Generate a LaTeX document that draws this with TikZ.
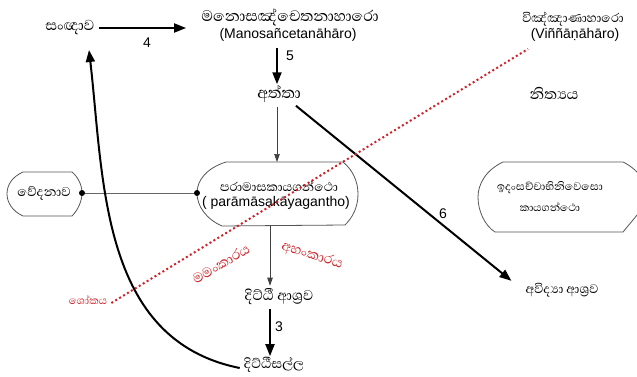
\documentclass[tikz,border=0pt]{standalone}
\usepackage{fontspec}
\setmainfont{Liberation Sans}
\newfontfamily\sinfont[Script=Sinhala]{Abhaya Libre}
\usetikzlibrary{arrows.meta}
\definecolor{redt}{RGB}{205,35,40}
\definecolor{outl}{RGB}{85,85,85}
\begin{document}
\begin{tikzpicture}[x=1pt,y=-1pt,
  si/.style={font=\sinfont\fontsize{#1}{#1}\selectfont, inner sep=1pt},
  si/.default=17,
  sired/.style={si=#1, text=redt},
  la/.style={font=\fontsize{14}{15}\selectfont, inner sep=1pt},
  num/.style={font=\fontsize{14}{15}\selectfont, inner sep=1pt},
  thickarr/.style={line width=2pt, -{Triangle[length=12pt,width=9pt]}},
  thinarr/.style={line width=0.7pt, draw=black!75, -{Triangle[length=8pt,width=5.5pt]}},
  thinline/.style={line width=0.7pt, draw=black!60},
  shapeline/.style={line width=0.8pt, draw=outl},
  reddot/.style={line width=2pt, draw=redt, dash pattern=on 2pt off 2.6pt}]
\useasboundingbox (0,0) rectangle (637,377);

% text nodes
\node[si=18.5] (sanna) at (70,28) {සංඥාව};
\node[si=19.5] (mano) at (290,17) {මනොසඤ්චෙතනාහාරො};
\node[la] (manolat) at (288,35) {(Manosañcetanāhāro)};
\node[si=16] (vinna) at (573,19) {විඤ්ඤාණාහාරො};
\node[la] (vinnalat) at (575,35) {(Viññāṇāhāro)};
\node[si=20] (atta) at (279,94) {අත්තා};
\node[si=19] (nitya) at (554,93) {නිත්‍යය};
\node[si=16.5] (vedana) at (44,193) {වේදනාව};
\node[si=16] (para) at (279,186) {පරාමාසකායගන්ථො};
\node[la] (paralat) at (276,203) {( parāmāsakāyagantho)};
\node[si=14] (idam) at (550,188) {ඉදංසච්චාභිනිවෙසො};
\node[si=13.5] (kaya) at (550,207) {කායගන්ථො};
\node[sired=13.5] (soka) at (88,300) {ශෝකය};
\node[sired=17.5, rotate=31] (mamam) at (221,264) {මමංකාරය};
\node[sired=17.5, rotate=-17] (aham) at (312,256) {අහංකාරය};
\node[si=18] (ditthias) at (279,297) {දිට්ඨී ආශ්‍රව};
\node[si=17] (ditthisalla) at (274,365) {දිට්ඨීසල්ල};
\node[si=16] (avidya) at (562,290) {අවිද්‍යා ආශ්‍රව};

% number labels
\node[num] (n4) at (147,43) {4};
\node[num] (n5) at (290,56) {5};
\node[num] (n6) at (443,214) {6};
\node[num] (n3) at (279,327) {3};

% shapes
\coordinate (vedR) at (82,193);
\coordinate (pillL) at (197,193);
\coordinate (pillT) at (277,162);
\coordinate (pillB) at (270,226);
\draw[shapeline] (23,172) -- (72,172) .. controls (78,177) and (82,185) .. (vedR)
  .. controls (82,201) and (78,210) .. (72,216) -- (23,216)
  .. controls (12,211) and (7,202) .. (7,194) .. controls (7,185) and (12,177) .. (23,172) -- cycle;
\draw[shapeline] (226,162) -- (343,162) .. controls (353,170) and (358,182) .. (358,194)
  .. controls (358,208) and (352,218) .. (345,225)
  -- (222,226) .. controls (206,219) and (197,206) .. (pillL)
  .. controls (197,180) and (207,168) .. (226,162) -- cycle;
\draw[shapeline] (503,162) -- (623,162) .. controls (640,170) and (652,190) .. (652,197)
  -- (623,232) -- (495,232) .. controls (484,225) and (478,210) .. (478,197)
  .. controls (478,184) and (486,170) .. (503,162) -- cycle;

% dots and link
\draw[thinline] (vedR) -- (pillL);
\fill (vedR) circle (3pt);
\fill (pillL) circle (3pt);

% connectors
\draw[thickarr] ([xshift=3pt]sanna.east) -- ([xshift=-14pt]sanna.east -| mano.west);
\draw[thickarr] ([yshift=-5pt]manolat.south -| pillT) -- (atta.north -| pillT);
\draw[thinarr] ([yshift=-3pt]atta.south -| pillT) -- (pillT);
\draw[thickarr] ([xshift=-6pt,yshift=-2pt]atta.south east) -- ([xshift=-13pt,yshift=1pt]avidya.north west);
\draw[thinarr] (pillB) -- ([yshift=2pt]pillB |- ditthias.north);
\draw[thickarr] ([yshift=-3pt]ditthias.south -| pillB) -- (ditthisalla.north -| pillB);
\coordinate (curveend) at (89,50);
\draw[thickarr] ([xshift=-3pt,yshift=-3pt]ditthisalla.west) .. controls (100,340) and (104,180) .. (curveend);
\coordinate (redend) at (528,49);
\draw[reddot] ([xshift=3pt,yshift=-3pt]soka.east) -- (redend);
\end{tikzpicture}
\end{document}
